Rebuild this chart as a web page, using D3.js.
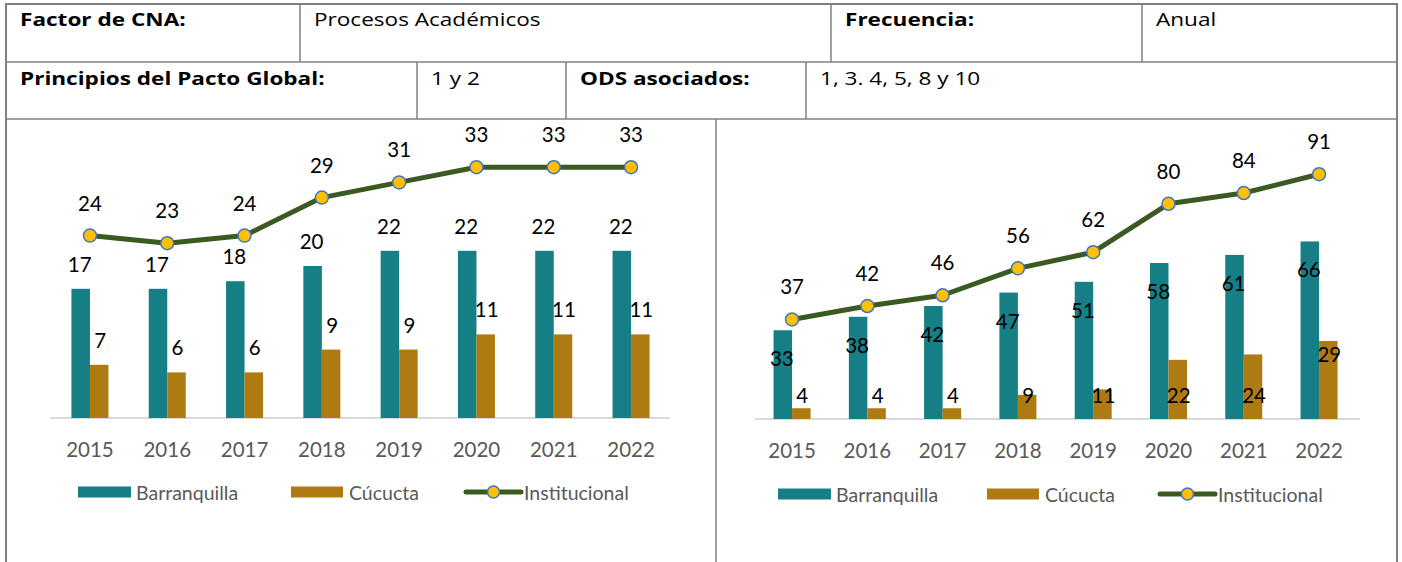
<!DOCTYPE html>
<html>
<head>
<meta charset="utf-8">
<script src="https://cdn.jsdelivr.net/npm/d3@7"></script>
<style>
  body { margin: 0; background: #fff; }
  svg { display: block; font-family: Lato, "Noto Sans", sans-serif; }
</style>
</head>
<body>
<svg width="1402" height="562"></svg>
<script>
const years = ["2015", "2016", "2017", "2018", "2019", "2020", "2021", "2022"];
const seriesNames = ["Barranquilla", "Cúcucta", "Institucional"];

// grafico izquierdo
const barA1 = [17, 17, 18, 20, 22, 22, 22, 22];
const cucA1 = [7, 6, 6, 9, 9, 11, 11, 11];
const instA1 = [24, 23, 24, 29, 31, 33, 33, 33];

// grafico derecho
const barA2 = [33, 38, 42, 47, 51, 58, 61, 66];
const cucA2 = [4, 4, 4, 9, 11, 22, 24, 29];
const instA2 = [37, 42, 46, 56, 62, 80, 84, 91];

const tableRow1 = [["Factor de CNA:", true], ["Procesos Académicos", false], ["Frecuencia:", true], ["Anual", false]];
const tableRow2 = [["Principios del Pacto Global:", true], ["1 y 2", false], ["ODS asociados:", true], ["1, 3. 4, 5, 8 y 10", false]];

const teal = "#167e85";
const gold = "#ae7b12";
const green = "#3a5a21";
const gridGray = "#808080";

const svg = d3.select("svg");

// ---- tabla ----
const tbl = svg.append("g");
const tLeft = 6, tRight = 1397, tTop = 4;
const rowY = [4, 62, 119];
const cols1 = [tLeft, 300, 831, 1142];
const cols2 = [tLeft, 417, 566, 806];

tbl.append("path")
  .attr("d", `M${tLeft},562V${tTop}H${tRight}V562`)
  .attr("fill", "none").attr("stroke", gridGray).attr("stroke-width", 2);
rowY.slice(1).forEach((y) => {
  tbl.append("line").attr("x1", tLeft).attr("x2", tRight).attr("y1", y).attr("y2", y)
    .attr("stroke", gridGray).attr("stroke-width", 1.5);
});
cols1.slice(1).forEach((x) => {
  tbl.append("line").attr("x1", x).attr("x2", x).attr("y1", rowY[0]).attr("y2", rowY[1])
    .attr("stroke", gridGray).attr("stroke-width", 1.5);
});
cols2.slice(1).forEach((x) => {
  tbl.append("line").attr("x1", x).attr("x2", x).attr("y1", rowY[1]).attr("y2", rowY[2])
    .attr("stroke", gridGray).attr("stroke-width", 1.5);
});
tbl.append("line").attr("x1", 716).attr("x2", 716).attr("y1", rowY[2]).attr("y2", 562)
  .attr("stroke", gridGray).attr("stroke-width", 1.5);

// el texto de la tabla viene algo estirado a lo ancho en la imagen original
function cellText(row, cols, y) {
  tbl.selectAll(null).data(row).join("text")
    .attr("transform", (d, i) => `translate(${cols[i] + 14},${y}) scale(1.22,1)`)
    .attr("font-family", "'Open Sans', sans-serif")
    .attr("font-size", 18.5)
    .attr("font-weight", (d) => (d[1] ? "bold" : "normal"))
    .attr("fill", "#000")
    .text((d) => d[0]);
}
cellText(tableRow1, cols1, 26);
cellText(tableRow2, cols2, 85);

// ---- graficos ----
function drawChart(opt) {
  const g = svg.append("g");
  const x = d3.scaleBand().domain(years).range(opt.xRange);
  const y = d3.scaleLinear().domain([0, opt.yMax]).range([opt.base, opt.yTop]);
  const bw = 18.5;
  const cx = (d) => x(d) + x.bandwidth() / 2;

  const ax = g.append("g")
    .attr("transform", `translate(0,${opt.base})`)
    .call(d3.axisBottom(x).tickSize(0).tickPadding(24).tickSizeOuter(0));
  ax.select(".domain").attr("stroke", "#d9d9d9").attr("stroke-width", 2)
    .attr("d", `M${opt.axisRange[0]},0H${opt.axisRange[1]}`);
  ax.selectAll(".tick text").attr("font-size", 20.5).attr("fill", "#595959")
    .attr("font-family", "Lato, sans-serif");

  g.selectAll(".b1").data(opt.bar).join("rect")
    .attr("x", (d, i) => cx(years[i]) - bw)
    .attr("y", (d) => y(d))
    .attr("width", bw)
    .attr("height", (d) => opt.base - y(d))
    .attr("fill", teal);

  g.selectAll(".b2").data(opt.cuc).join("rect")
    .attr("x", (d, i) => cx(years[i]))
    .attr("y", (d) => y(d))
    .attr("width", bw)
    .attr("height", (d) => opt.base - y(d))
    .attr("fill", gold);

  const line = d3.line().x((d, i) => cx(years[i])).y((d) => y(d));
  g.append("path").datum(opt.inst)
    .attr("d", line).attr("fill", "none")
    .attr("stroke", green).attr("stroke-width", 5).attr("stroke-linejoin", "round");
  g.selectAll(".pt").data(opt.inst).join("circle")
    .attr("cx", (d, i) => cx(years[i]))
    .attr("cy", (d) => y(d))
    .attr("r", 6.5)
    .attr("fill", "#ffc000")
    .attr("stroke", "#4472c4").attr("stroke-width", 1.5);

  const lab = (data, fx, fy) => {
    g.selectAll(null).data(data).join("text")
      .attr("x", fx).attr("y", fy)
      .attr("text-anchor", "middle").attr("dominant-baseline", "central")
      .attr("font-size", 20.5).attr("fill", "#000")
      .text((d) => d);
  };
  lab(opt.inst, (d, i) => cx(years[i]), (d) => y(d) - 33);
  lab(opt.bar, (d, i) => cx(years[i]) - bw / 2 - 1, (d) => opt.barLabelY(y(d)));
  lab(opt.cuc, (d, i) => cx(years[i]) + bw / 2 + 1, (d) => opt.cucLabelY(y(d), d));

  // leyenda
  const lg = g.append("g").attr("transform", `translate(0,${opt.legendY})`);
  const lx = opt.legendX;
  lg.append("rect").attr("x", lx[0]).attr("y", -5.5).attr("width", 53).attr("height", 11).attr("fill", teal);
  lg.append("rect").attr("x", lx[1]).attr("y", -5.5).attr("width", 52).attr("height", 11).attr("fill", gold);
  lg.append("line").attr("x1", lx[2]).attr("x2", lx[2] + 55).attr("y1", 0).attr("y2", 0)
    .attr("stroke", green).attr("stroke-width", 5).attr("stroke-linecap", "round");
  lg.append("circle").attr("cx", lx[2] + 27.5).attr("cy", 0).attr("r", 6)
    .attr("fill", "#ffc000").attr("stroke", "#4472c4").attr("stroke-width", 1.5);
  lg.selectAll("text").data(seriesNames).join("text")
    .attr("x", (d, i) => lx[i] + 58)
    .attr("y", 0)
    .attr("dominant-baseline", "central")
    .attr("font-size", 19.5).attr("fill", "#595959")
    .text((d) => d);
}

drawChart({
  bar: barA1, cuc: cucA1, inst: instA1,
  xRange: [51.3, 669.7], axisRange: [50, 670],
  base: 418, yMax: 40, yTop: 418 - 40 * 7.6,
  barLabelY: (yv) => yv - 25,
  cucLabelY: (yv) => yv - 25,
  legendY: 492, legendX: [78, 291, 466]
});

drawChart({
  bar: barA2, cuc: cucA2, inst: instA2,
  xRange: [754.4, 1356.7], axisRange: [755, 1360],
  base: 419, yMax: 100, yTop: 419 - 269,
  barLabelY: (yv) => yv + 28,
  cucLabelY: (yv, v) => (v > 25 ? yv + 13 : 419 - 24),
  legendY: 494, legendX: [778, 987, 1160]
});
</script>
</body>
</html>
